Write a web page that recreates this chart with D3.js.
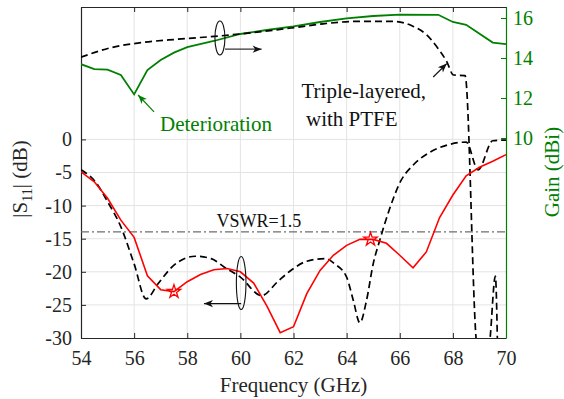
<!DOCTYPE html>
<html>
<head>
<meta charset="utf-8">
<script src="https://cdn.jsdelivr.net/npm/d3@7"></script>
<style>
  body { margin: 0; background: #fff; }
  svg { display: block; }
</style>
</head>
<body>
<script>
// ---------------- data ----------------
const xTicks = [54, 56, 58, 60, 62, 64, 66, 68, 70];
const leftTicks = [0, -5, -10, -15, -20, -25, -30];
const rightTicks = [10, 12, 14, 16];

// |S11| (dB) - triple-layered with PTFE (red solid)
const s11RedF = [54, 54.5, 55, 55.5, 56, 56.5, 57, 57.5, 58, 58.5, 59, 59.5, 60, 60.5, 61, 61.5, 62,
                 62.5, 63, 63.5, 64, 64.5, 65, 65.5, 66, 66.5, 67, 67.5, 68, 68.5, 69, 69.5, 70];
const s11Red  = [-4.9, -6.4, -8.9, -12.2, -14.8, -20.6, -22.7, -23.0, -21.5, -20.4, -19.7, -19.5, -20.0, -21.7, -25.2, -29.2, -28.3,
                 -23.3, -19.8, -17.5, -16.0, -15.1, -15.1, -15.7, -17.5, -19.4, -17.0, -11.8, -8.4, -5.5, -4.2, -3.3, -2.3];

// |S11| (dB) - deteriorated (black dashed)
const s11DashF = [54, 54.5, 55, 55.5, 56, 56.45, 56.9, 57.5, 58.3, 58.9, 59.4, 60, 60.8, 61.4, 61.9, 62.5, 63.2,
                  63.55, 64, 64.25, 64.5, 64.75, 65, 65.25, 65.6, 66.05, 66.5, 67.15, 67.75, 68.5, 68.95, 69.5, 70];
const s11Dash  = [-4.6, -6.2, -9.4, -13.2, -18.8, -24.1, -21.8, -19.0, -17.65, -18.0, -19.3, -20.8, -23.6, -21.5, -19.8, -18.4, -18.0,
                  -18.8, -20.8, -24.3, -27.7, -24.3, -18.8, -15.2, -10.7, -6.2, -3.9, -1.9, -0.9, -0.4, -4.6, -0.2, -0.1];

// Gain (dBi) - green solid
const gainSolidF = [54, 54.5, 55, 55.5, 56, 56.5, 57, 57.5, 58, 59, 60, 61, 62, 63, 64, 65, 66, 67.45, 68, 68.5, 69.5, 70];
const gainSolid  = [13.69, 13.44, 13.42, 13.15, 12.18, 13.40, 13.9, 14.27, 14.54, 14.85, 15.2, 15.4, 15.58, 15.8, 15.98, 16.1, 16.17, 16.16, 15.8, 15.66, 14.77, 14.69];

// Gain (dBi) - black dashed
const gainDashF = [54, 55.14, 56.4, 57.65, 59.28, 61.92, 63.12, 64.38, 65.76, 66.51, 67.01, 67.39, 67.77, 68.02, 68.46, 68.92, 69.35, 69.6, 69.68];
const gainDash  = [14.04, 14.52, 14.79, 14.94, 15.11, 15.5, 15.71, 15.83, 15.83, 15.58, 15.16, 14.57, 13.82, 13.15, 13.12, -0.4, -0.4, 3.1, -0.4];

const starF = [57.5, 64.9];
const starS11 = [-23.0, -15.1];
const vswrDb = -13.98;

const FONT = '"Liberation Serif", "Times New Roman", Times, serif';

// ---------------- layout ----------------
const W = 564, H = 399;
const L = 81, R = 506, T = 7, B = 338;
const black = "#262626", green = "#008000", red = "#ff0000";

const x = d3.scaleLinear().domain([54, 70]).range([L, R]);
const y1 = d3.scaleLinear().domain([-30, 20]).range([B, T]);
const y2 = d3.scaleLinear().domain([0, 16.55]).range([B, T]);

const svg = d3.select("body").append("svg").attr("width", W).attr("height", H);
svg.append("rect").attr("width", W).attr("height", H).attr("fill", "#fff");

const defs = svg.append("defs");
defs.append("clipPath").attr("id", "plotclip").append("rect")
  .attr("x", L).attr("y", T).attr("width", R - L).attr("height", B - T);
function marker(id, color) {
  defs.append("marker").attr("id", id).attr("viewBox", "-10 -5 12 10")
    .attr("refX", 0).attr("refY", 0).attr("markerWidth", 12).attr("markerHeight", 10)
    .attr("markerUnits", "userSpaceOnUse").attr("orient", "auto")
    .append("path").attr("d", "M0,0 L-9,-3.6 L-6.5,0 L-9,3.6 Z").attr("fill", color);
}
marker("arrBlack", "#111");
marker("arrGreen", green);

// grid
const grid = svg.append("g");
grid.selectAll("line.vg").data(xTicks.slice(1, -1)).join("line")
  .attr("x1", d => x(d)).attr("x2", d => x(d)).attr("y1", T).attr("y2", B)
  .attr("stroke", "#e3e3e3").attr("stroke-width", 1);
grid.selectAll("line.hg").data(leftTicks.slice(0, -1)).join("line")
  .attr("x1", L).attr("x2", R).attr("y1", d => y1(d)).attr("y2", d => y1(d))
  .attr("stroke", "#e3e3e3").attr("stroke-width", 1);

// axes
function styleAxis(g, color, size) {
  g.attr("font-family", FONT);
  g.selectAll("path.domain").attr("stroke", color).attr("stroke-width", 1.2);
  g.selectAll(".tick line").attr("stroke", color);
  g.selectAll(".tick text").attr("fill", color).attr("font-size", size);
}
const gx = svg.append("g").attr("transform", `translate(0,${B})`)
  .call(d3.axisBottom(x).tickValues(xTicks).tickSizeInner(-5).tickSizeOuter(0).tickPadding(13).tickFormat(d => String(d)));
styleAxis(gx, black, 20);
const gTop = svg.append("g").attr("transform", `translate(0,${T})`)
  .call(d3.axisTop(x).tickValues(xTicks).tickSizeInner(-5).tickSizeOuter(0).tickFormat(""));
styleAxis(gTop, black, 20);
const gy1 = svg.append("g").attr("transform", `translate(${L},0)`)
  .call(d3.axisLeft(y1).tickValues(leftTicks).tickSizeInner(-5).tickSizeOuter(0).tickPadding(9).tickFormat(d => String(d)));
styleAxis(gy1, black, 20);
const gy2 = svg.append("g").attr("transform", `translate(${R},0)`)
  .call(d3.axisRight(y2).tickValues(rightTicks).tickSizeInner(-5).tickSizeOuter(0).tickPadding(7).tickFormat(d => String(d)));
styleAxis(gy2, green, 20);

// VSWR line
svg.append("line").attr("x1", L).attr("x2", R).attr("y1", y1(vswrDb)).attr("y2", y1(vswrDb))
  .attr("stroke", "#6e6e6e").attr("stroke-width", 1.3).attr("stroke-dasharray", "8,3,2,3");

// series
const plot = svg.append("g").attr("clip-path", "url(#plotclip)");
const lineLin = d3.line().x(d => x(d[0])).y(d => d[1]);
const lineSmooth = d3.line().x(d => x(d[0])).y(d => d[1]).curve(d3.curveMonotoneX);

plot.append("path")
  .attr("d", lineLin(gainSolidF.map((f, i) => [f, y2(gainSolid[i])])))
  .attr("fill", "none").attr("stroke", green).attr("stroke-width", 1.8);
plot.append("path")
  .attr("d", lineSmooth(gainDashF.map((f, i) => [f, y2(gainDash[i])])))
  .attr("fill", "none").attr("stroke", "#000").attr("stroke-width", 1.7).attr("stroke-dasharray", "7,4");
plot.append("path")
  .attr("d", lineSmooth(s11DashF.map((f, i) => [f, y1(s11Dash[i])])))
  .attr("fill", "none").attr("stroke", "#000").attr("stroke-width", 1.7).attr("stroke-dasharray", "7,4");
plot.append("path")
  .attr("d", lineLin(s11RedF.map((f, i) => [f, y1(s11Red[i])])))
  .attr("fill", "none").attr("stroke", red).attr("stroke-width", 1.6);
plot.selectAll("path.star").data(starF.map((f, i) => [f, starS11[i]])).join("path")
  .attr("transform", d => `translate(${x(d[0])},${y1(d[1])})`)
  .attr("d", d3.symbol().type(d3.symbolStar).size(55))
  .attr("fill", "none").attr("stroke", red).attr("stroke-width", 1.3);

// annotations (positioned in data units)
const ann = svg.append("g").attr("font-family", FONT);
ann.append("ellipse").attr("cx", x(59.23)).attr("cy", y2(15.0)).attr("rx", 5).attr("ry", 17)
  .attr("fill", "none").attr("stroke", "#111").attr("stroke-width", 1.1);
ann.append("line").attr("x1", x(59.42)).attr("y1", y2(14.44)).attr("x2", x(60.8)).attr("y2", y2(14.44))
  .attr("stroke", "#333").attr("stroke-width", 1.3).attr("marker-end", "url(#arrBlack)");
ann.append("ellipse").attr("cx", x(60.03)).attr("cy", y1(-21.7)).attr("rx", 4.8).attr("ry", 26.5)
  .attr("fill", "none").attr("stroke", "#111").attr("stroke-width", 1.1);
ann.append("line").attr("x1", x(60.03)).attr("y1", y1(-24.8)).attr("x2", x(58.63)).attr("y2", y1(-24.8))
  .attr("stroke", "#111").attr("stroke-width", 1.3).attr("marker-end", "url(#arrBlack)");
ann.append("line").attr("x1", x(56.75)).attr("y1", y2(11.31)).attr("x2", x(56.15)).attr("y2", y2(12.15))
  .attr("stroke", green).attr("stroke-width", 1.2).attr("marker-end", "url(#arrGreen)");
ann.append("line").attr("x1", x(67.26)).attr("y1", y2(13.05)).attr("x2", x(67.77)).attr("y2", y2(13.72))
  .attr("stroke", "#111").attr("stroke-width", 1.2).attr("marker-end", "url(#arrBlack)");

ann.append("text").attr("x", 160).attr("y", 131).attr("fill", green).attr("font-size", 21).text("Deterioration");
ann.append("text").attr("x", 301.5).attr("y", 97.5).attr("fill", "#111").attr("font-size", 21).text("Triple-layered,");
ann.append("text").attr("x", 306).attr("y", 125.8).attr("fill", "#111").attr("font-size", 21).text("with PTFE");
ann.append("text").attr("x", 216.5).attr("y", 226.7).attr("fill", "#111").attr("font-size", 18).text("VSWR=1.5");

// axis titles
const titles = svg.append("g").attr("font-family", FONT);
titles.append("text").attr("x", (L + R) / 2).attr("y", 391.5).attr("text-anchor", "middle")
  .attr("fill", black).attr("font-size", 21).text("Frequency (GHz)");
const yt = titles.append("text").attr("transform", "translate(27,179) rotate(-90)")
  .attr("text-anchor", "middle").attr("fill", black).attr("font-size", 21);
yt.append("tspan").text("|S");
yt.append("tspan").attr("font-size", 14).attr("dy", 5).text("11");
yt.append("tspan").attr("dy", -5).text("| (dB)");
titles.append("text").attr("transform", "translate(559,172) rotate(-90)")
  .attr("text-anchor", "middle").attr("fill", green).attr("font-size", 21).text("Gain (dBi)");

svg.selectAll("text").attr("font-family", FONT);
</script>
</body>
</html>
